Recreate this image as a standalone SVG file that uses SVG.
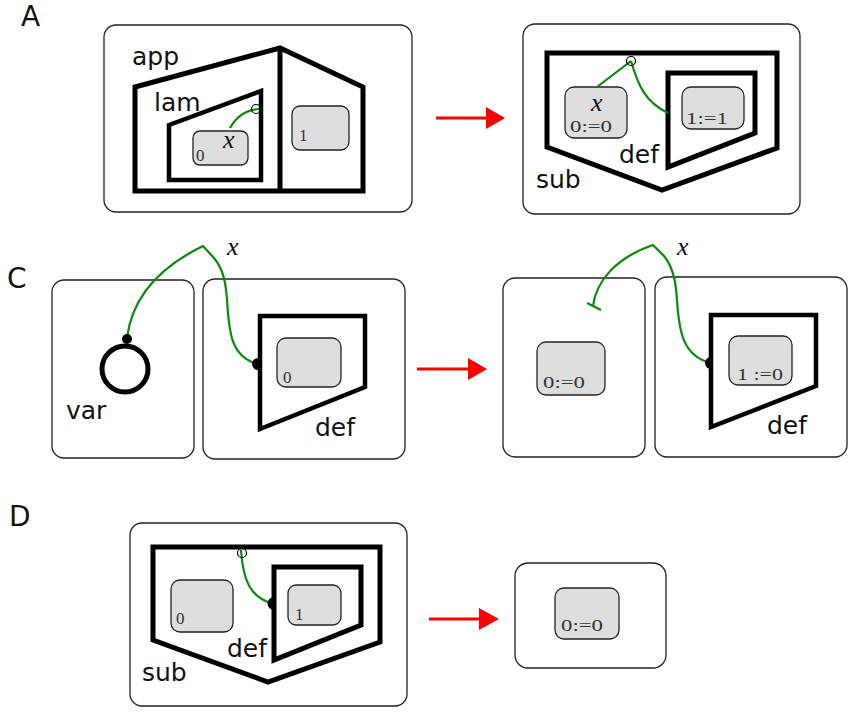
<svg xmlns="http://www.w3.org/2000/svg" width="849" height="713" viewBox="0 0 849 713">
<defs>
<style>
.panel{fill:#fff;stroke:#222;stroke-width:1.3}
.thick{fill:none;stroke:#000;stroke-width:5;stroke-linejoin:miter}
.mid{fill:none;stroke:#000;stroke-width:4.5}
.box{fill:#dedede;stroke:#222;stroke-width:1.3}
.wire{fill:none;stroke:#0a8a0a;stroke-width:2.2}
.port{fill:none;stroke:#000;stroke-width:1.2}
.dot{fill:#000}
.lbl{font-family:"DejaVu Sans",sans-serif;font-size:25px;fill:#111}
.head{font-family:"DejaVu Sans",sans-serif;font-size:28px;fill:#111}
.num{font-family:"Liberation Serif",serif;font-size:17px;fill:#333}
.var{font-family:"Liberation Serif",serif;font-style:italic;font-size:26px;fill:#111}
.arrow{stroke:#f00;stroke-width:3}
.ahead{fill:#f00}
</style>
</defs>

<text class="head" x="21" y="26">A</text>
<text class="head" x="7" y="288">C</text>
<text class="head" x="9" y="526">D</text>

<!-- Panel A left -->
<g id="A-left">
<rect class="panel" x="104" y="25" width="308" height="187" rx="12"/>
<polygon class="thick" points="135,87 280,48 363,87 363,191 135,191"/>
<line class="thick" x1="280" y1="48" x2="280" y2="191"/>
<polygon class="mid" points="169,125 261,91 261,180 169,180"/>
<rect class="box" x="193" y="131" width="55" height="34" rx="7"/>
<text class="num" x="196" y="161">0</text>
<text class="var" x="223" y="148">x</text>
<rect class="box" x="292" y="106" width="57" height="44" rx="8"/>
<text class="num" x="299" y="141">1</text>
<text class="lbl" x="132" y="65">app</text>
<text class="lbl" x="154" y="111">lam</text>
</g>

<!-- Panel A right -->
<g id="A-right">
<rect class="panel" x="523" y="24" width="277" height="190" rx="12"/>
<polygon class="thick" points="547,53 777,53 777,148 662,190 547,147"/>
<polygon class="thick" points="668,73 755,73 755,133 668,167"/>
<rect class="box" x="565" y="87" width="62" height="51" rx="9"/>
<text class="var" x="591" y="111">x</text>
<text class="num" x="570" y="132" textLength="42" lengthAdjust="spacingAndGlyphs">0:=0</text>
<rect class="box" x="682" y="87" width="62" height="42" rx="9"/>
<text class="num" x="686" y="124" textLength="42" lengthAdjust="spacingAndGlyphs">1:=1</text>
<text class="lbl" x="619" y="163">def</text>
<text class="lbl" x="536" y="188">sub</text>
</g>

<!-- Panel C left -->
<g id="C-var">
<rect class="panel" x="52" y="280" width="142" height="178" rx="12"/>
<circle cx="125" cy="369" r="23" fill="none" stroke="#000" stroke-width="5"/>
<text class="lbl" x="66" y="419">var</text>
</g>
<g id="C-def">
<rect class="panel" x="203" y="279" width="202" height="180" rx="12"/>
<polygon class="mid" points="260,316 365,316 365,387 260,429"/>
<rect class="box" x="277" y="338" width="64" height="49" rx="9"/>
<text class="num" x="283" y="383">0</text>
<text class="lbl" x="315" y="436">def</text>
<text class="var" x="227" y="255">x</text>
</g>

<!-- Panel C right -->
<g id="C-result">
<rect class="panel" x="503" y="278" width="142" height="179" rx="12"/>
<rect class="box" x="537" y="342" width="68" height="53" rx="9"/>
<text class="num" x="543" y="388" textLength="42" lengthAdjust="spacingAndGlyphs">0:=0</text>
</g>
<g id="C-def2">
<rect class="panel" x="655" y="277" width="192" height="180" rx="12"/>
<polygon class="mid" points="711,315 816,315 816,386 711,427"/>
<rect class="box" x="729" y="336" width="63" height="49" rx="9"/>
<text class="num" x="737" y="380" textLength="46" lengthAdjust="spacingAndGlyphs">1 :=0</text>
<text class="lbl" x="767" y="434">def</text>
<text class="var" x="677" y="255">x</text>
</g>

<!-- Panel D left -->
<g id="D-left">
<rect class="panel" x="130" y="523" width="277" height="183" rx="12"/>
<polygon class="thick" points="153,547 380,547 380,642 268,682 153,640"/>
<polygon class="thick" points="274,567 361,567 361,625 274,660"/>
<rect class="box" x="171" y="580" width="62" height="52" rx="9"/>
<text class="num" x="176" y="624">0</text>
<rect class="box" x="288" y="585" width="53" height="40" rx="8"/>
<text class="num" x="295" y="620">1</text>
<text class="lbl" x="227" y="657">def</text>
<text class="lbl" x="142" y="681">sub</text>
</g>

<!-- Panel D right -->
<g id="D-right">
<rect class="panel" x="515" y="563" width="151" height="105" rx="13"/>
<rect class="box" x="555" y="588" width="64" height="51" rx="9"/>
<text class="num" x="561" y="631" textLength="42" lengthAdjust="spacingAndGlyphs">0:=0</text>
</g>

<!-- connectors -->
<g id="connectors">
<!-- A left wire -->
<path class="wire" d="M230,128 Q240,110 259,109"/>
<circle class="port" cx="256" cy="109" r="4.5"/>
<!-- A right wires -->
<path class="wire" d="M597,87 L631,61"/>
<path class="wire" d="M631,61 C638,85 645,102 668,113"/>
<circle class="port" cx="631" cy="61" r="4.5"/>
<!-- C left wire -->
<path class="wire" d="M127,338 C133,290 170,262 203,246 L214,258 C224,270 226,285 227,300 C229,330 230,357 258,364"/>
<circle class="dot" cx="127" cy="339" r="5"/>
<path class="dot" d="M258,358 A5.5,5.5 0 0 0 258,370 Z"/>
<!-- C right wire -->
<path class="wire" d="M593,306 C596,282 615,258 653,245 L664,256 C674,268 676,285 677,300 C679,330 682,356 711,363"/>
<line x1="587" y1="303" x2="601" y2="310" stroke="#0a8a0a" stroke-width="2.2"/>
<path class="dot" d="M711,357 A5.5,5.5 0 0 0 711,369 Z"/>
<!-- D left wire -->
<path class="wire" d="M241,550 C243,580 250,598 274,604"/>
<circle class="port" cx="242" cy="553" r="4.5"/>
<path class="dot" d="M274,597 A6,6 0 0 0 274,610 Z"/>
<!-- red arrows -->
<line class="arrow" x1="436" y1="118" x2="488" y2="118"/>
<polygon class="ahead" points="486,107 505,118 486,129"/>
<line class="arrow" x1="417" y1="369" x2="470" y2="369"/>
<polygon class="ahead" points="468,358 487,369 468,380"/>
<line class="arrow" x1="429" y1="619" x2="481" y2="619"/>
<polygon class="ahead" points="479,608 499,619 479,630"/>
</g>
</svg>
